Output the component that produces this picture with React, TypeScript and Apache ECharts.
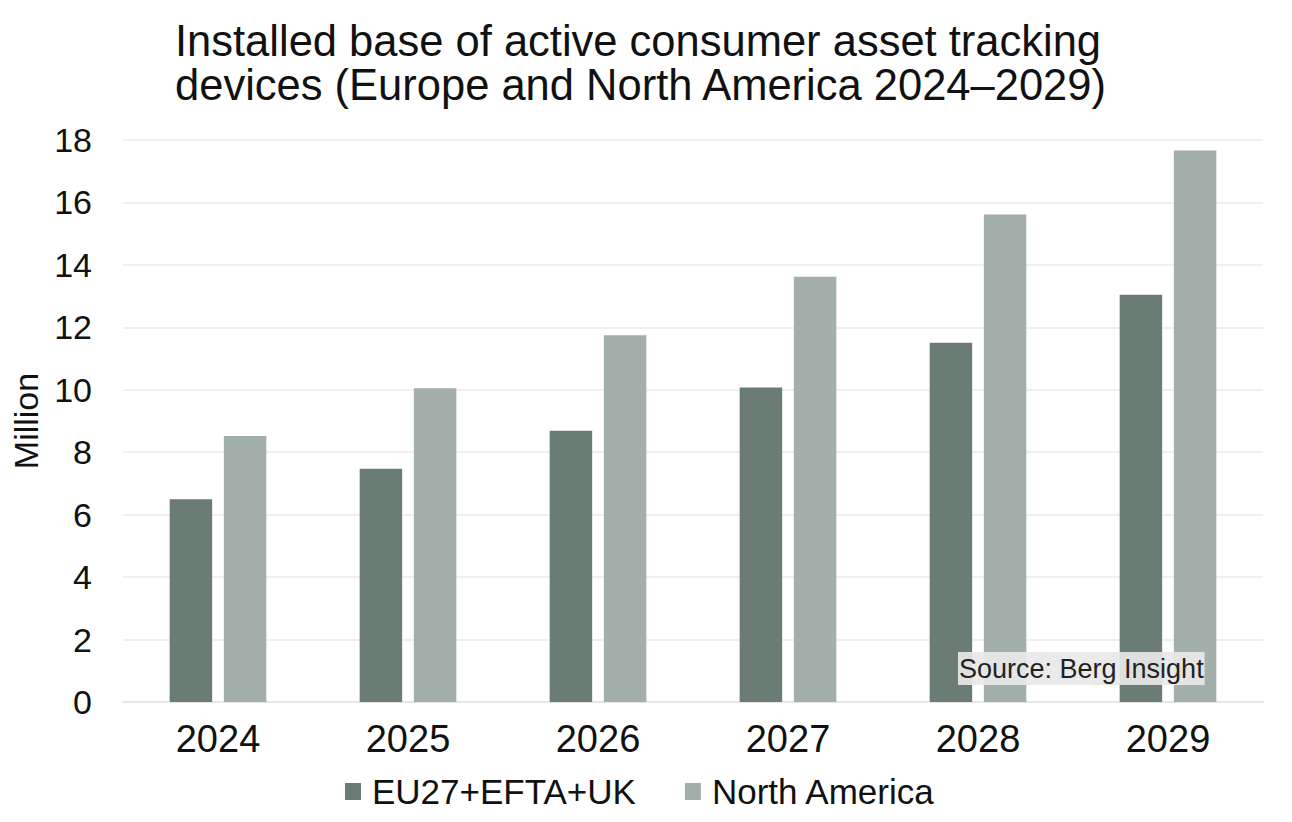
import React, { useEffect, useRef } from "react";
import * as echarts from "echarts";

const TITLE = "Installed base of active consumer asset tracking\ndevices (Europe and North America 2024–2029)";
const categories = ["2024", "2025", "2026", "2027", "2028", "2029"];
const seriesNames = ["EU27+EFTA+UK", "North America"];
const euValues = [6.49, 7.47, 8.69, 10.07, 11.51, 13.04];
const naValues = [8.52, 10.05, 11.75, 13.62, 15.61, 17.66];
const yTicks = { min: 0, max: 18, interval: 2 };
const AXIS_NAME = "Million";
const SOURCE = "Source: Berg Insight";

const FONT = "'Liberation Sans', Arial, sans-serif";

export default function App() {
  const ref = useRef<HTMLDivElement>(null);
  useEffect(() => {
    if (!ref.current) return;
    const chart = echarts.init(ref.current, undefined, { renderer: "svg" });
    chart.setOption({
      animation: false,
      backgroundColor: "#ffffff",
      textStyle: { fontFamily: FONT },
      title: {
        text: TITLE,
        left: 170,
        top: 14,
        textStyle: {
          fontFamily: FONT,
          fontSize: 43.5,
          lineHeight: 44,
          fontWeight: "normal",
          color: "#111111",
        },
      },
      legend: {
        left: 340,
        top: 769,
        itemWidth: 16,
        itemHeight: 17,
        itemGap: 49,
        icon: "rect",
        textStyle: {
          fontFamily: FONT,
          fontSize: 35,
          color: "#111111",
          padding: [0, 0, 0, 6],
        },
        data: seriesNames,
      },
      grid: { left: 123, right: 29, top: 140, bottom: 120 },
      xAxis: {
        type: "category",
        data: categories,
        axisLine: { lineStyle: { color: "#e6e6e6", width: 2 } },
        axisTick: { show: false },
        axisLabel: {
          fontFamily: FONT,
          fontSize: 38,
          color: "#111111",
          margin: 18,
        },
      },
      yAxis: {
        type: "value",
        min: yTicks.min,
        max: yTicks.max,
        interval: yTicks.interval,
        name: AXIS_NAME,
        nameLocation: "middle",
        nameGap: 70,
        nameTextStyle: { fontFamily: FONT, fontSize: 34, color: "#111111" },
        axisLine: { show: false },
        axisTick: { show: false },
        axisLabel: {
          fontFamily: FONT,
          fontSize: 34,
          color: "#111111",
          margin: 31,
        },
        splitLine: { lineStyle: { color: "#ebebeb", width: 1.5 } },
      },
      series: [
        {
          name: seriesNames[0],
          type: "bar",
          data: euValues,
          barWidth: 42.5,
          barGap: "27.5%",
          itemStyle: { color: "#6b7c75" },
        },
        {
          name: seriesNames[1],
          type: "bar",
          data: naValues,
          barWidth: 42.5,
          barGap: "27.5%",
          itemStyle: { color: "#a3afab" },
        },
      ],
      graphic: [
        {
          type: "text",
          left: 958,
          top: 652,
          z: 100,
          style: {
            text: SOURCE,
            fontFamily: "'Liberation Sans', Arial, sans-serif",
            fontSize: 27,
            fill: "#222222",
            backgroundColor: "rgba(232,232,232,0.92)",
            padding: [3, 1, 3, 1],
          },
        },
      ],
    });
    return () => chart.dispose();
  }, []);
  return (
    <div
      ref={ref}
      style={{ position: "fixed", left: 0, top: 0, width: 1292, height: 822 }}
    />
  );
}
